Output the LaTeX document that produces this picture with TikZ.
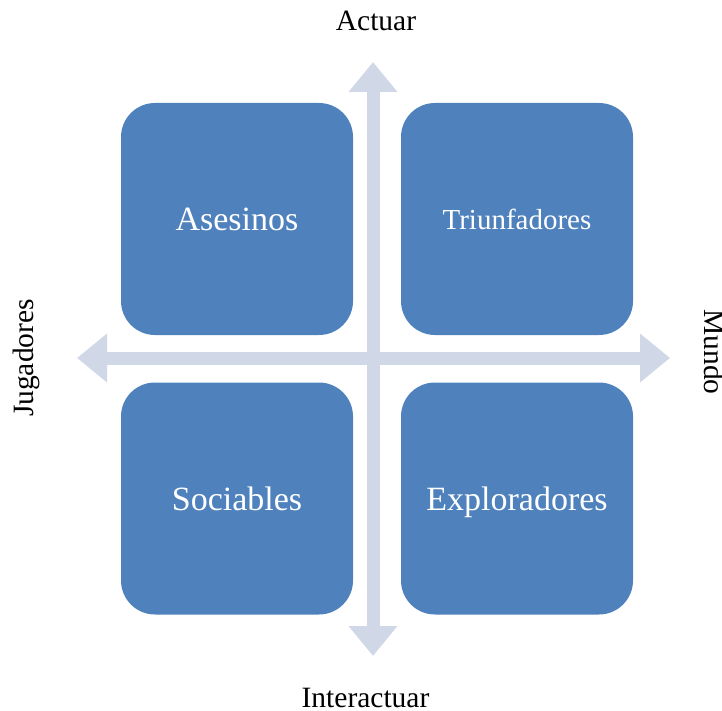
\documentclass[tikz,border=0pt]{standalone}
\usepackage{fontspec}
\setmainfont{Liberation Serif}
\usetikzlibrary{arrows.meta}
\definecolor{cuadro}{HTML}{4F81BD}
\definecolor{eje}{HTML}{D0D8E8}
\begin{document}
\begin{tikzpicture}[x=1pt, y=-1pt,
    cuadro/.style={fill=cuadro, rounded corners=34pt, minimum width=232pt, minimum height=232pt,
        inner sep=0pt, text=white, text depth=0pt, font=\fontsize{34}{40}\selectfont},
    eje/.style={draw=eje, line width=13pt, {Triangle[width=47pt, length=30pt]}-{Triangle[width=47pt, length=30pt]}},
    etiqueta/.style={font=\fontsize{29.5}{34}\selectfont, anchor=base}]
    \useasboundingbox (0, 0) rectangle (722, 711);
    %\draw[lightgray] (0, 0) grid[step=50] (722, 711);
    \coordinate (arriba) at (373, 62);
    \coordinate (abajo) at (373, 656);
    \coordinate (izq) at (77, 358);
    \coordinate (der) at (670, 358);
    \draw[eje] (abajo) -- (arriba);
    \draw[eje] (izq) -- (der);
    \node[cuadro] (asesinos) at (237, 219) {Asesinos};
    \node[cuadro, font=\fontsize{29}{34}\selectfont] (triunfadores) at (517, 219) {Triunfadores};
    \node[cuadro] (sociables) at (237, 498.5) {Sociables};
    \node[cuadro] (exploradores) at (517, 498.5) {Exploradores};
    \node[etiqueta] (actuar) at (376, 31) {Actuar};
    \node[etiqueta] (interactuar) at (365.5, 707.5) {Interactuar};
    \node[etiqueta, rotate=90, anchor=south] (jugadores) at (43, 358) {Jugadores};
    \node[etiqueta, rotate=-90, anchor=south] (mundo) at (701, 352) {Mundo};
\end{tikzpicture}
\end{document}
